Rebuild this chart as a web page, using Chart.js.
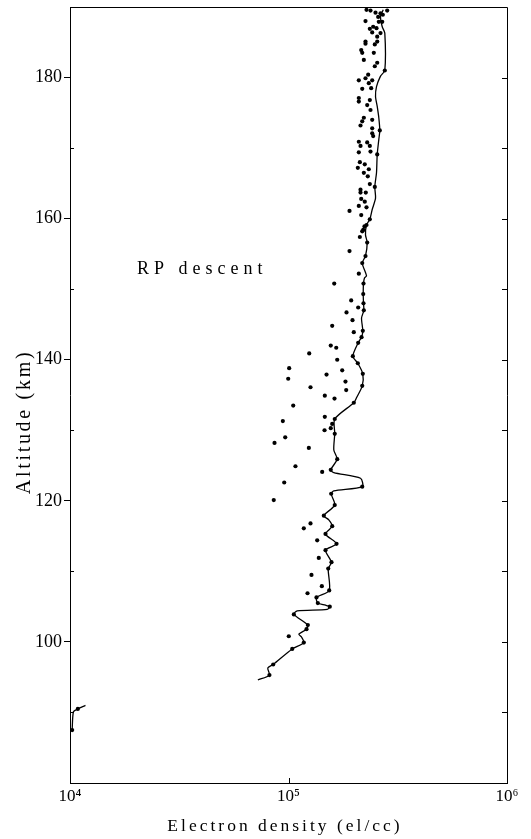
<!DOCTYPE html>
<html><head><meta charset="utf-8">
<script src="https://cdn.jsdelivr.net/npm/chart.js@4.4.1/dist/chart.umd.min.js"></script>
<style>html,body{margin:0;padding:0;background:#fff}</style>
</head><body>
<canvas id="c" width="531" height="839"></canvas>
<script>
// ---- data ----
const xTickValues = [1e4, 1e5, 1e6];
const xTickLabels = ['10\u2074', '10\u2075', '10\u2076'];
const yTickValues = [100, 120, 140, 160, 180];
const yMinorStep = 10;

// continuous profile (altitude km, electron density el/cc)
const profileAlt = [94.6,95.3,96.3,96.8,99.0,99.9,100.7,101.1,101.8,102.4,103.9,104.4,104.6,105.0,105.2,105.5,106.3,107.3,110.4,111.3,113.0,113.9,115.3,116.4,117.3,117.9,119.4,121.0,121.4,122.0,123.2,124.0,124.4,125.9,127.2,129.5,131.6,133.9,134.6,136.3,138.0,139.5,140.5,142.4,143.2,144.1,145.9,147.0,148.0,149.3,150.8,151.6,151.9,153.7,154.7,156.6,157.7,159.1,159.9,161.3,162.9,164.5,166.5,169.1,171.2,172.5,174.3,175.9,177.3,178.7,180.2,181.0,186.3,187.2,188.7,189.6];
const profileDensity = [72400,81800,80400,85100,104000,117500,114700,111500,120900,122600,105800,109600,150400,154500,147700,136200,134300,153600,152000,157300,147700,165900,147700,158500,152900,145100,162800,156800,161200,217500,213600,161200,156100,167100,161200,162800,162800,199000,204700,217500,218800,207600,197000,208400,215900,218800,215900,221200,220400,219800,220400,222700,227500,217500,225100,229200,225100,227500,235600,241600,250200,248300,252800,254700,259000,261700,259000,254700,250200,252800,263700,275900,275900,268500,263700,271400];

// short low-altitude segment
const lowAlt = [87.5, 90.1, 90.5, 91.0];
const lowDensity = [10230, 10370, 10860, 11770];

// individual measurement dots
const dotAlt = [
 95.3,96.8,99.0,99.9,101.8,102.4,103.9,105.0,105.5,106.3,107.3,110.4,111.3,113.0,113.9,115.3,116.4,117.9,119.4,121.0,122.0,124.4,125.9,129.5,131.6,133.9,136.3,138.0,139.5,140.5,142.4,143.2,144.1,147.0,148.0,149.3,150.8,153.7,154.7,156.6,159.1,159.9,164.5,169.1,172.5,181.0,
 189.6,189.5,189.2,189.1,189.5,188.9,188.6,188.0,187.9,187.9,187.2,186.9,187.0,186.4,186.3,185.8,185.1,184.8,185.1,184.7,183.9,183.5,183.5,182.5,182.1,181.6,180.4,179.9,179.6,179.2,179.6,178.4,178.5,177.1,176.6,176.8,176.1,175.4,174.3,173.8,174.0,173.2,172.8,
 172.1,171.7,170.9,170.8,170.3,170.3,169.4,169.5,168.0,167.7,167.2,166.5,167.0,166.0,164.9,164.1,163.7,163.7,162.8,162.4,161.8,161.6,161.1,160.5,158.9,158.4,158.2,157.4,155.4,
 152.2,150.8,148.4,146.7,145.6,147.4,144.8,143.9,142.0,141.7,140.9,140.0,138.8,137.3,137.9,138.5,136.9,136.1,135.7,134.9,134.5,
 133.5,131.9,131.3,130.9,130.3,130.0,129.0,128.2,127.5,124.9,124.1,122.6,120.1,116.8,116.1,
 114.4,111.9,109.5,107.9,106.9,100.8,
 87.5,90.5];
const dotDensity = [
 81800,85100,104000,117500,120900,122600,105800,154500,136200,134300,153600,152000,157300,147700,165900,147700,158500,145100,162800,156800,217500,156100,167100,162800,162800,199000,217500,218800,207600,197000,208400,215900,218800,221200,220400,219800,220400,217500,225100,229200,227500,235600,248300,254700,261700,275900,
 227500,237300,250200,263700,282900,270200,257300,225100,259000,268500,244100,235600,252800,241600,263700,254700,225100,225100,254700,248300,215200,217500,245700,221200,254700,248300,231600,225100,209800,233100,241600,217500,239000,209800,209800,235600,229200,237300,221200,217500,241600,213600,241600,
 241600,244100,209800,229200,213600,235600,209800,237300,212100,223400,207600,221200,233100,230600,235600,213600,213600,225800,215200,223400,209800,227500,190200,215200,222700,219800,217500,212100,190200,
 209800,161900,193600,184300,196300,208400,158500,199000,156100,165400,124400,167100,100700,99700,149300,176100,182300,126100,183700,146600,162400,
 105100,146600,94200,158500,156100,146200,96600,86300,123900,107600,142600,95600,85600,126100,117500,
 135300,137600,127400,142100,122200,100300,
 10230,10860];

const labelText = 'RP descent';
const labelDensity = 20260, labelAltitude = 152.1;

const pts = (ys, xs) => ys.map((y, i) => ({x: xs[i], y}));

const framePlugin = {
  id: 'frame',
  beforeDraw(chart) {
    const cfg = {x: ['3px', -3.5, 0], y: ['2.7px', 0, 27]};
    for (const id of ['x', 'y']) {
      const s = chart.scales[id];
      if (s && !s._lsPatched) {
        const orig = s.drawTitle;
        const [sp, dx, dy] = cfg[id];
        s.drawTitle = function () {
          const c = this.ctx; c.save();
          try { c.letterSpacing = sp; } catch (e) {}
          c.translate(dx, dy); orig.call(this); c.restore();
        };
        s._lsPatched = true;
      }
    }
  },
  afterDraw(chart) {
    const {ctx, chartArea: a, scales: {x, y}} = chart;
    ctx.save();
    ctx.strokeStyle = '#000'; ctx.lineWidth = 1;
    ctx.beginPath();
    ctx.moveTo(a.left, a.top + 0.5); ctx.lineTo(a.right + 0.5, a.top + 0.5);
    ctx.lineTo(a.right + 0.5, a.bottom);
    ctx.stroke();
    ctx.beginPath();
    for (let v = y.min + yMinorStep; v < y.max; v += yMinorStep) {
      const py = Math.round(y.getPixelForValue(v)) + 0.5;
      ctx.moveTo(a.right, py); ctx.lineTo(a.right - 5, py);
      if (!yTickValues.includes(v)) { ctx.moveTo(a.left, py); ctx.lineTo(a.left + 4, py); }
    }
    for (const v of xTickValues) {
      const px = Math.round(x.getPixelForValue(v)) + 0.5;
      ctx.moveTo(px, a.bottom); ctx.lineTo(px, a.bottom - 5);
    }
    ctx.stroke();
    ctx.fillStyle = '#000';
    ctx.font = '18px "Liberation Serif", serif';
    try { ctx.letterSpacing = '5px'; } catch (e) {}
    ctx.textBaseline = 'alphabetic'; ctx.textAlign = 'left';
    ctx.fillText(labelText, x.getPixelForValue(labelDensity), y.getPixelForValue(labelAltitude));
    ctx.restore();
  }
};

new Chart(document.getElementById('c'), {
  type: 'scatter',
  data: {
    datasets: [
      {data: pts(profileAlt, profileDensity), showLine: true, pointRadius: 0, borderColor: '#000', borderWidth: 1.3, tension: 0.25, fill: false},
      {data: pts(lowAlt, lowDensity), showLine: true, pointRadius: 0, borderColor: '#000', borderWidth: 1.3, tension: 0.25, fill: false},
      {data: pts(dotAlt, dotDensity), showLine: false, pointRadius: 2.1, pointBackgroundColor: '#000', pointBorderWidth: 0, backgroundColor: '#000'}
    ]
  },
  options: {
    responsive: false, animation: false, devicePixelRatio: 1,
    layout: {padding: {top: 7, right: 24, bottom: 0, left: 0}},
    plugins: {legend: {display: false}, tooltip: {enabled: false}},
    scales: {
      x: {
        type: 'logarithmic', min: 1e4, max: 1e6, position: 'bottom',
        afterBuildTicks: s => { s.ticks = xTickValues.map(v => ({value: v})); },
        afterFit: s => { s.height = 56; s.paddingLeft = 0; s.paddingRight = 0; },
        grid: {display: false, drawTicks: false},
        border: {display: true, color: '#000', width: 1},
        ticks: {color: '#000', padding: 3, maxRotation: 0, autoSkip: false,
          font: {family: '"Liberation Serif", serif', size: 17},
          callback: (v) => { const i = xTickValues.indexOf(v); return i >= 0 ? xTickLabels[i] : ''; }},
        title: {display: true, text: 'Electron density (el/cc)', color: '#000',
          font: {family: '"Liberation Serif", serif', size: 17.5}, padding: {top: 0, bottom: 2.5}}
      },
      y: {
        type: 'linear', min: 80, max: 190,
        afterBuildTicks: s => { s.ticks = yTickValues.map(v => ({value: v})); },
        afterFit: s => { s.width = 70; s.paddingTop = 0; s.paddingBottom = 0; },
        grid: {display: true, drawOnChartArea: false, drawTicks: true, tickLength: 6, color: '#000', lineWidth: 1},
        border: {display: true, color: '#000', width: 1},
        ticks: {color: '#000', padding: 2, autoSkip: false,
          font: {family: '"Liberation Serif", serif', size: 18},
          callback: v => String(v)},
        title: {display: true, text: 'Altitude (km)', color: '#000',
          font: {family: '"Liberation Serif", serif', size: 20}, padding: {top: 13, bottom: 0}}
      }
    }
  },
  plugins: [framePlugin]
});
</script>
</body></html>
